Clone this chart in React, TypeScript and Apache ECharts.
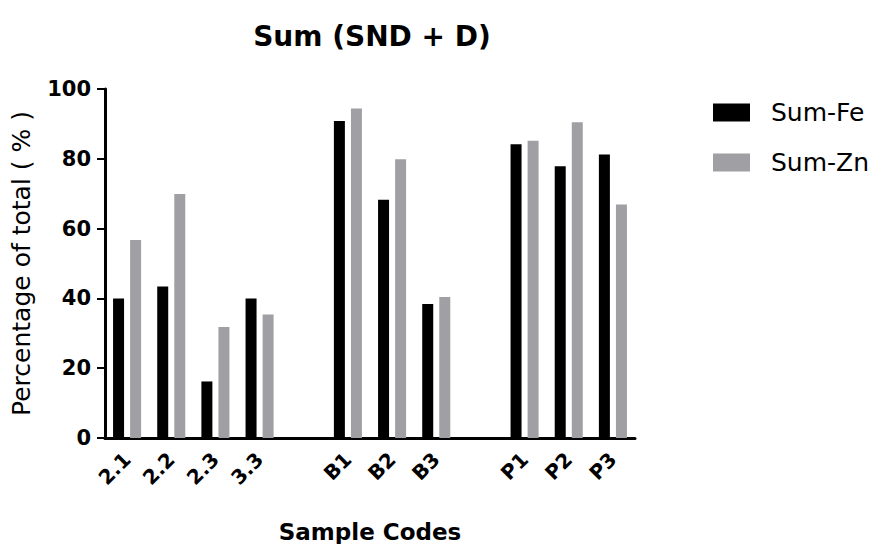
import React, { useEffect, useRef } from "react";
import * as echarts from "echarts";

const categories = ["2.1", "2.2", "2.3", "3.3", " ", "B1", "B2", "B3", "  ", "P1", "P2", "P3"];
const sumFe = [40, 43.4, 16.2, 40, null, 90.8, 68.3, 38.4, null, 84.2, 77.9, 81.2];
const sumZn = [56.7, 69.9, 31.8, 35.4, null, 94.4, 79.9, 40.4, null, 85.2, 90.5, 66.9];
const yTicks = { min: 0, max: 100, interval: 20 };

const FONT = "'DejaVu Sans', Verdana, sans-serif";

export default function App() {
  const ref = useRef<HTMLDivElement>(null);
  useEffect(() => {
    if (!ref.current) return;
    const chart = echarts.init(ref.current, undefined, { renderer: "svg" });
    chart.setOption({
      animation: false,
      backgroundColor: "#ffffff",
      textStyle: { fontFamily: FONT },
      title: {
        text: "Sum (SND + D)",
        left: 367,
        top: 17,
        textAlign: "center",
        textStyle: { fontFamily: FONT, fontWeight: "bold", fontSize: 28, color: "#000" },
      },
      legend: {
        orient: "vertical",
        left: 713,
        top: 100,
        padding: 0,
        itemWidth: 37,
        itemHeight: 18,
        itemGap: 25,
        icon: "rect",
        textStyle: { fontFamily: FONT, fontSize: 25, color: "#000", padding: [0, 0, 0, 16] },
        data: ["Sum-Fe", "Sum-Zn"],
      },
      grid: { left: 105, right: 239, top: 89, bottom: 106, containLabel: false, outerBoundsMode: "none" },
      xAxis: {
        type: "category",
        data: categories,
        boundaryGap: true,
        name: "Sample Codes",
        nameLocation: "middle",
        nameGap: 82,
        nameTextStyle: { fontFamily: FONT, fontWeight: "bold", fontSize: 23, color: "#000" },
        axisLine: { lineStyle: { color: "#000", width: 3 } },
        axisTick: { alignWithLabel: true, length: 7, lineStyle: { color: "#000", width: 2 } },
        axisLabel: {
          interval: 0,
          rotate: 45,
          margin: 18,
          fontFamily: FONT,
          fontWeight: "bold",
          fontSize: 20,
          color: "#000",
        },
        splitLine: { show: false },
      },
      yAxis: {
        type: "value",
        min: yTicks.min,
        max: yTicks.max,
        interval: yTicks.interval,
        name: "Percentage of total ( % )",
        nameLocation: "middle",
        nameGap: 71,
        nameTextStyle: { fontFamily: FONT, fontSize: 25, color: "#000" },
        axisLine: { show: true, lineStyle: { color: "#000", width: 3 } },
        axisTick: { show: true, length: 8, lineStyle: { color: "#000", width: 2 } },
        axisLabel: { margin: 14, fontFamily: FONT, fontWeight: "bold", fontSize: 21, color: "#000" },
        splitLine: { show: false },
      },
      series: [
        {
          name: "Sum-Fe",
          type: "bar",
          data: sumFe,
          barWidth: 11,
          barGap: "55%",
          itemStyle: { color: "#000000" },
        },
        {
          name: "Sum-Zn",
          type: "bar",
          data: sumZn,
          barWidth: 11,
          barGap: "55%",
          itemStyle: { color: "#a0a0a4" },
        },
      ],
    });
    return () => chart.dispose();
  }, []);
  return (
    <div
      ref={ref}
      style={{ position: "fixed", left: 0, top: 0, width: 874, height: 544, background: "#fff" }}
    />
  );
}
